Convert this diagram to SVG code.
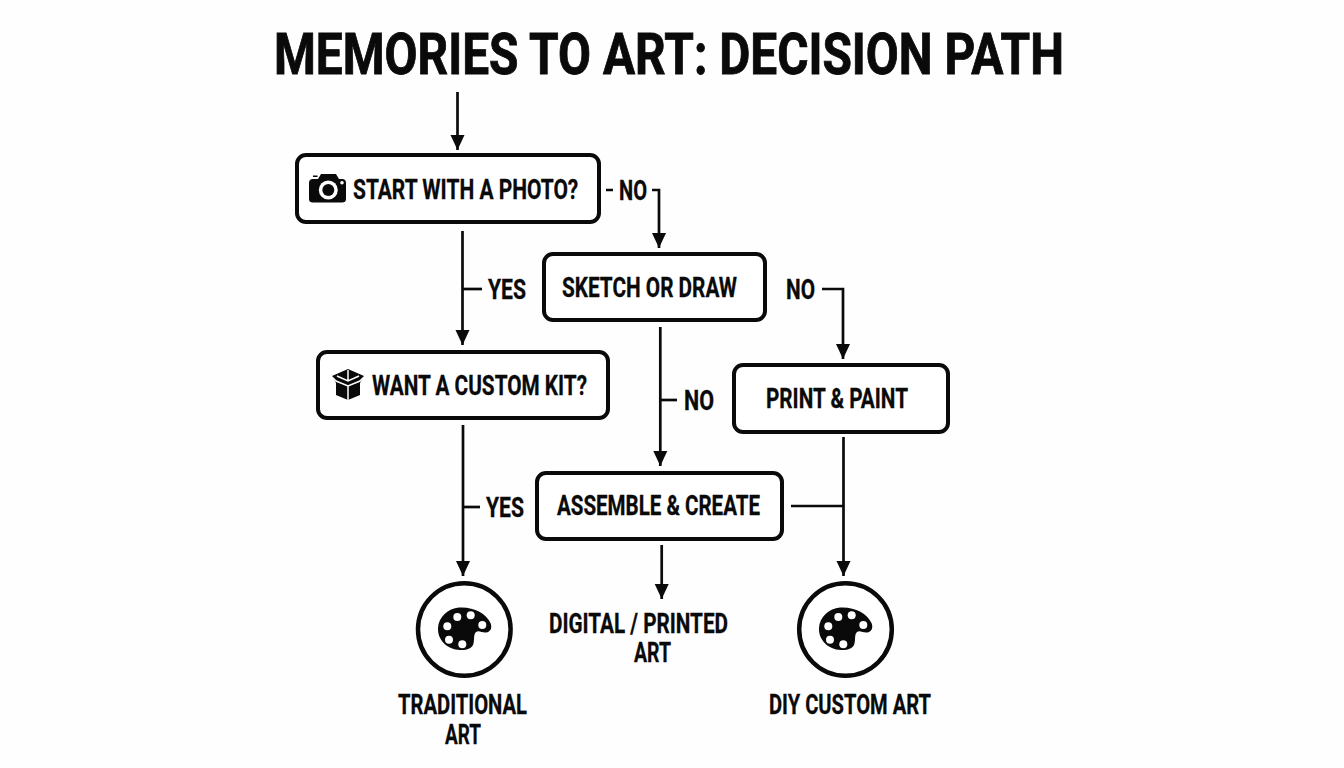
<svg xmlns="http://www.w3.org/2000/svg" width="1344" height="768" viewBox="0 0 1344 768">
<style>
.box{fill:#fff;stroke:#0a0a0a;stroke-width:4}
.ln{fill:none;stroke:#0a0a0a;stroke-width:2.7}
.ah{fill:#0a0a0a}
.ring{fill:#fff;stroke:#0a0a0a;stroke-width:4.5}
text{font-family:Roboto,"Liberation Sans",sans-serif;font-weight:700;fill:#0a0a0a}
.t{font-size:27px;stroke:#0a0a0a;stroke-width:.3}
.ic{fill:#0a0a0a}
.h{fill:#fff}
.cut{fill:none;stroke:#fff;stroke-width:1.5}
</style>
<defs>
<marker id="arr" markerWidth="15" markerHeight="15" refX="15" refY="7.500" orient="auto" markerUnits="userSpaceOnUse" viewBox="0 0 15 15"><path d="M0 0.500L15 7.500L0 14.500Z" class="ah"/></marker>
<g id="palette"><path class="ic" d="M-6-23.500C8-24.500 21-18 25.500-8C27.500-3 25.500 1 21 1.500C17 2 14-1 11 1C8 4 10 9 8 14C6 18 0 19.500-5 19C-18 18.500-27.500 9-27-3C-26.500-14-17-22.500-6-23.500Z"/><circle class="h" cx="-7.700" cy="-14" r="4"/><circle class="h" cx="5.700" cy="-15.700" r="4"/><circle class="h" cx="17.300" cy="-6" r="4"/><circle class="h" cx="-17.700" cy="-4.700" r="4"/><circle class="h" cx="-16" cy="8.700" r="4"/><circle class="h" cx="-2.700" cy="13.300" r="4"/></g>
</defs>
<rect width="1344" height="768" fill="#fefefe"/>
<text id="title" x="274" y="74" font-size="58" stroke="#0a0a0a" stroke-width=".9" textLength="790" lengthAdjust="spacingAndGlyphs">MEMORIES TO ART: DECISION PATH</text>
<g id="connectors">
<path class="ln" d="M457.500 92V150" marker-end="url(#arr)"/>
<path class="ln" d="M606 190H613M652 190H659V248" marker-end="url(#arr)"/>
<path class="ln" d="M462.500 231V345" marker-end="url(#arr)"/>
<path class="ln" d="M463 289H482"/>
<path class="ln" d="M822 289H843V359" marker-end="url(#arr)"/>
<path class="ln" d="M660.300 327V466" marker-end="url(#arr)"/>
<path class="ln" d="M661 400H677"/>
<path class="ln" d="M463 425V576" marker-end="url(#arr)"/>
<path class="ln" d="M464 507H480"/>
<path class="ln" d="M661.700 545V599" marker-end="url(#arr)"/>
<path class="ln" d="M791 506H843"/>
<path class="ln" d="M843.500 437V576" marker-end="url(#arr)"/>
</g>
<g id="node-photo"><rect class="box" x="297" y="155" width="302" height="67" rx="9"/>
<path class="ic" d="M313 175.500H317.500V177H313ZM309 183Q309 179 313 179H318L321 174H336L339 179H342Q346 179 346 183V199Q346 202.500 342 202.500H313Q309 202.500 309 199Z"/><circle class="h" cx="328.300" cy="190" r="9.500"/><circle class="ic" cx="328.300" cy="190" r="6"/><circle class="h" cx="342" cy="182.700" r="1.800"/>
<text class="t" transform="translate(353 199) scale(.776 1)">START WITH A PHOTO?</text></g>
<g id="node-sketch"><rect class="box" x="544" y="254" width="221" height="66" rx="9"/><text class="t" x="562" y="297" textLength="175" lengthAdjust="spacingAndGlyphs">SKETCH OR DRAW</text></g>
<g id="node-kit"><rect class="box" x="318" y="352" width="290" height="66" rx="9"/>
<path class="ic" d="M348 369L364 376L360 383V395L348 400L336 395V383L332 376Z"/>
<path class="cut" d="M332 377L336 381L348 386L360 381L364 377M348 386V400M337 376L348 381L359 376M348 370V381"/>
<text class="t" x="372" y="395" textLength="215" lengthAdjust="spacingAndGlyphs">WANT A CUSTOM KIT?</text></g>
<g id="node-print"><rect class="box" x="734" y="365" width="214" height="67" rx="9"/><text class="t" x="766" y="408" textLength="142" lengthAdjust="spacingAndGlyphs">PRINT &amp; PAINT</text></g>
<g id="node-assemble"><rect class="box" x="537" y="473" width="245" height="66" rx="9"/><text class="t" x="557" y="515" textLength="203" lengthAdjust="spacingAndGlyphs">ASSEMBLE &amp; CREATE</text></g>
<g id="labels">
<text class="t" x="619" y="200" textLength="28" lengthAdjust="spacingAndGlyphs">NO</text>
<text class="t" x="488" y="299" textLength="38" lengthAdjust="spacingAndGlyphs">YES</text>
<text class="t" x="786" y="299" textLength="29" lengthAdjust="spacingAndGlyphs">NO</text>
<text class="t" x="684" y="410" textLength="30" lengthAdjust="spacingAndGlyphs">NO</text>
<text class="t" x="486" y="517" textLength="38" lengthAdjust="spacingAndGlyphs">YES</text>
</g>
<g id="node-traditional"><circle class="ring" cx="464.300" cy="629.500" r="46.300"/><use href="#palette" x="465" y="631"/>
<text class="t" x="398" y="714" textLength="129" lengthAdjust="spacingAndGlyphs">TRADITIONAL</text><text class="t" x="445" y="744" textLength="36" lengthAdjust="spacingAndGlyphs">ART</text></g>
<g id="node-digital"><text class="t" x="549" y="633" textLength="179" lengthAdjust="spacingAndGlyphs">DIGITAL / PRINTED</text><text class="t" x="634" y="662" textLength="37" lengthAdjust="spacingAndGlyphs">ART</text></g>
<g id="node-diy"><circle class="ring" cx="845.500" cy="629.500" r="46.300"/><use href="#palette" x="846" y="631"/>
<text class="t" x="769" y="714" textLength="162" lengthAdjust="spacingAndGlyphs">DIY CUSTOM ART</text></g>
</svg>
